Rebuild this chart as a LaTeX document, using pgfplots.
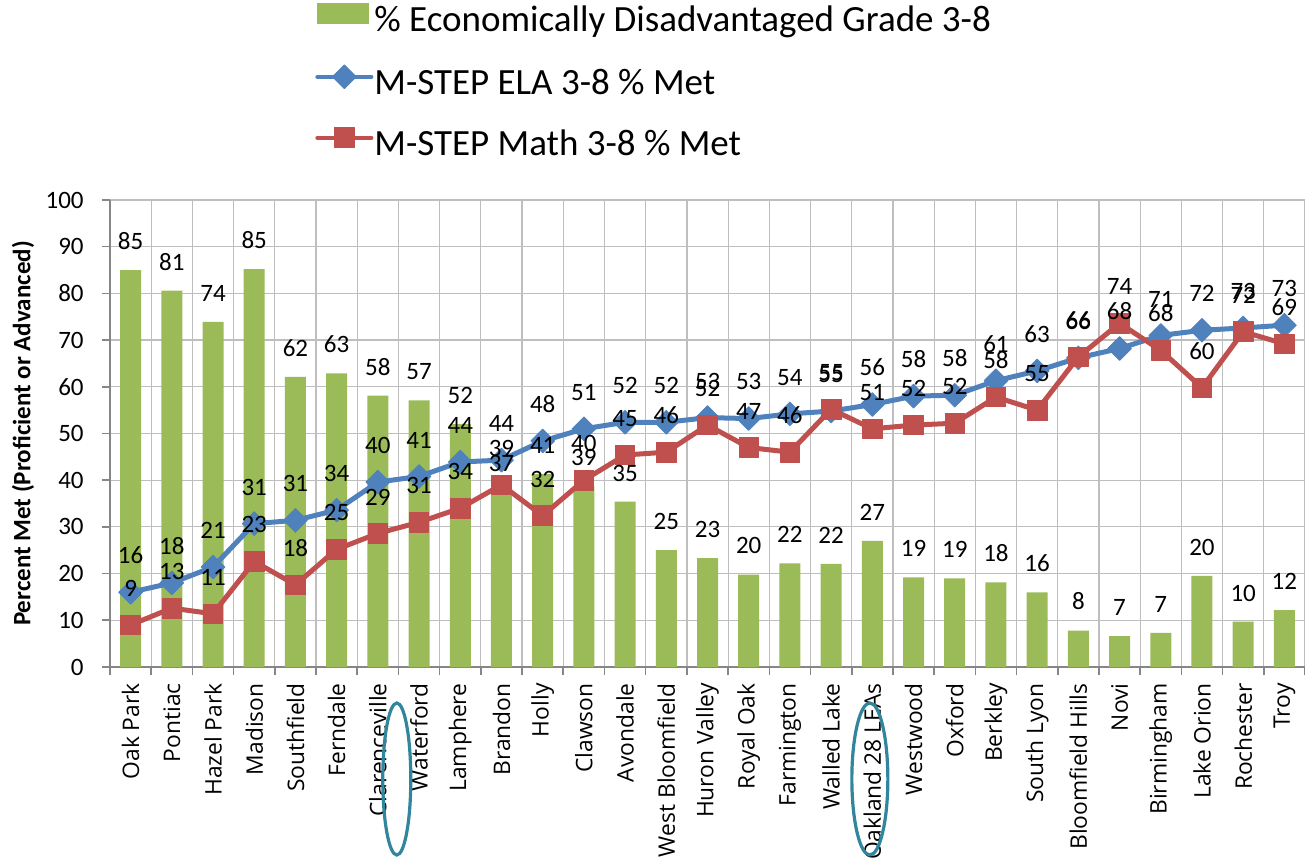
\documentclass[border=0pt]{standalone}
\usepackage{pgfplots}
\pgfplotsset{compat=1.18}
\usepackage{pgfplotstable}
\usepackage{fontspec}
\setmainfont{Carlito}
\newfontfamily\catfont{Open Sans}

\definecolor{barGreen}{HTML}{9BBB59}
\definecolor{elaBlue}{HTML}{4F81BD}
\definecolor{mathRed}{HTML}{C0504D}
\definecolor{gridGray}{HTML}{BEBEBE}
\definecolor{axisGray}{HTML}{868686}
\definecolor{ringTeal}{HTML}{31859C}

\pgfplotsset{
  barlegend/.style={legend image code/.code={\fill[barGreen] (0pt,-0.75pt) rectangle (26pt,9.75pt);}},
  linelegend/.style={legend image code/.code={\draw[##1, line width=2pt, line cap=round, mark repeat=2, mark phase=2]
      plot coordinates {(0pt,4.5pt) (13.5pt,4.5pt) (27pt,4.5pt)};}},
  dlabels/.style={draw=none, forget plot, point meta=y,
    nodes near coords={\pgfmathprintnumber[fixed,precision=0]{\pgfplotspointmeta}},
    every node near coord/.append style={font=\fontsize{12.5}{15}\selectfont,
      text=black, inner sep=0pt, anchor=south, yshift=#1}},
}

% idx  econ = % econ. disadvantaged, ela / math = M-STEP % met
\pgfplotstableread{
idx econ ela  math
0   85.0 16.0 9.0
1   80.6 18.0 12.6
2   73.9 21.4 11.4
3   85.2 30.7 22.6
4   62.1 31.4 17.6
5   62.9 33.6 25.2
6   58.1 39.6 28.6
7   57.1 40.8 31.0
8   52.0 43.9 34.0
9   37.4 44.3 39.0
10  41.3 48.4 32.4
11  38.7 51.0 40.0
12  35.4 52.4 45.4
13  25.0 52.4 46.0
14  23.3 53.4 51.8
15  19.8 53.2 47.0
16  22.2 54.2 46.0
17  22.1 54.8 55.2
18  27.0 56.2 51.0
19  19.2 58.0 51.8
20  19.0 58.2 52.2
21  18.1 61.3 57.8
22  16.0 63.4 55.0
23  7.8  66.2 66.4
24  6.6  68.2 73.6
25  7.3  71.0 67.8
26  19.5 72.1 59.8
27  9.7  72.6 71.8
28  12.2 73.2 69.2
}\districts

\begin{document}
\begin{tikzpicture}
\begin{axis}[
    scale only axis, width=597.5pt, height=233.5pt,
    at={(0,0)}, anchor=south west,
    xmin=-0.5, xmax=28.5, ymin=0, ymax=100,
    axis lines*=left,
    axis line style={axisGray, line width=0.8pt},
    clip=false,
    tick align=outside,
    /pgf/number format/assume math mode=true,
    ytick={0,10,...,100},
    ymajorgrids, xmajorgrids,
    grid style={gridGray, line width=0.6pt},
    major tick length=4pt,
    tick style={axisGray, line width=0.8pt},
    xtick={-0.5,0.5,...,28.5}, xticklabels={},
    extra x ticks={0,1,...,28},
    extra x tick labels={Oak Park, Pontiac, Hazel Park, Madison, Southfield,
      Ferndale, Clarenceville, Waterford, Lamphere, Brandon, Holly, Clawson,
      Avondale, West Bloomfield, Huron Valley, Royal Oak, Farmington,
      Walled Lake, Oakland 28 LEAs, Westwood, Oxford, Berkley, South Lyon,
      Bloomfield Hills, Novi, Birmingham, Lake Orion, Rochester, Troy},
    extra x tick style={major tick length=0pt, grid=none},
    xticklabel style={font=\catfont\fontsize{11.4}{13}\selectfont, rotate=90,
      anchor=east, inner sep=0pt},
    xticklabel shift=8pt,
    yticklabel style={font=\fontsize{12.5}{15}\selectfont, anchor=east, inner sep=0pt},
    yticklabel shift=9pt,
    ylabel={Percent Met (Proficient or Advanced)},
    ylabel style={font=\bfseries\fontsize{12.5}{15}\selectfont,
      at={(axis description cs:-0.0728,0.5)}, anchor=center},
    legend style={draw=none, fill=none, at={(axis description cs:0.1665,1.4304)},
      anchor=north west, font=\fontsize{18.5}{22}\selectfont,
      row sep=12.5pt, column sep=0.5pt,
      nodes={inner sep=0pt, text height=13pt, text depth=4pt}},
    legend cell align=left,
]
  \addplot[ybar, bar width=10.5pt, fill=barGreen, draw=none, barlegend]
    table[x=idx, y=econ] {\districts};
  \addplot[elaBlue, line width=2.5pt, line join=round, mark=square*, mark size=4.2pt,
    mark options={rotate=45, solid, line width=0.4pt}, linelegend]
    table[x=idx, y=ela] {\districts};
  \addplot[mathRed, line width=2.5pt, line join=round, mark=square*, mark size=4.9pt,
    mark options={solid, line width=0.4pt}, linelegend]
    table[x=idx, y=math] {\districts};
  \legend{\% Economically Disadvantaged Grade 3-8, M-STEP ELA 3-8 \% Met,
    M-STEP Math 3-8 \% Met}

  % data labels on top of everything
  \addplot[dlabels=10pt] table[x=idx, y=econ] {\districts};
  \addplot[dlabels=14pt] table[x=idx, y=ela] {\districts};
  \addplot[dlabels=14pt] table[x=idx, y=math] {\districts};

  \draw[ringTeal, line width=1.6pt] ([yshift=-56pt]axis cs:6.46,0)
    ellipse [x radius=7pt, y radius=38pt];
  \draw[ringTeal, line width=1.6pt] ([yshift=-56pt]axis cs:17.94,0)
    ellipse [x radius=9pt, y radius=38pt];
\end{axis}
\pgfresetboundingbox
\path (-55pt,-99.5pt) rectangle (597.5pt,333.5pt);
\end{tikzpicture}
\end{document}
